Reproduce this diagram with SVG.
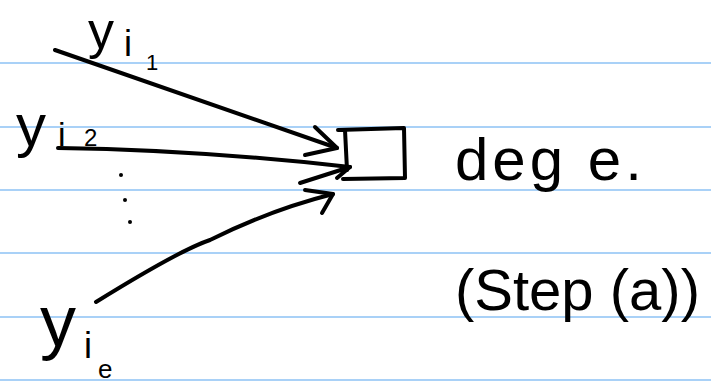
<svg xmlns="http://www.w3.org/2000/svg" width="711" height="386" viewBox="0 0 711 386">
<style>
.rule{stroke:#a9d1f7;stroke-width:2}
.ink{fill:none;stroke:#000;stroke-width:4;stroke-linecap:round;stroke-linejoin:round}
.t{font-family:"Liberation Sans",sans-serif;fill:#000}
</style>
<rect width="711" height="386" fill="#fff"/>
<g id="rules">
<line class="rule" x1="0" y1="63" x2="711" y2="63"/>
<line class="rule" x1="0" y1="127" x2="711" y2="127"/>
<line class="rule" x1="0" y1="190" x2="711" y2="190"/>
<line class="rule" x1="0" y1="253" x2="711" y2="253"/>
<line class="rule" x1="0" y1="317" x2="711" y2="317"/>
<line class="rule" x1="0" y1="380" x2="711" y2="380"/>
</g>
<g id="connectors">
<path class="ink" d="M55 50 Q200 100 337 148"/>
<path class="ink" d="M315 127 L337 148 L305 155"/>
<path class="ink" d="M58 148 Q200 150 350 167"/>
<path class="ink" d="M300 183 L350 167 L337 178"/>
<path class="ink" d="M96 302 Q180 250 210 240 Q270 210 333 194"/>
<path class="ink" d="M305 190 L333 194 L322 213"/>
</g>
<g id="node-box">
<path class="ink" d="M338 130 L404 128 L405 178 L343 179 M345 130 L347 170"/>
</g>
<g id="label-y1">
<text class="t" x="88" y="48" font-size="52">y</text>
<text class="t" x="124" y="56" font-size="36">i</text>
<text class="t" x="146" y="70" font-size="22">1</text>
</g>
<g id="label-y2">
<text class="t" x="16" y="146" font-size="60">y</text>
<text class="t" x="58" y="146" font-size="34">i</text>
<text class="t" x="84" y="146" font-size="24">2</text>
</g>
<g id="label-dots">
<circle cx="121" cy="175" r="2"/>
<circle cx="125" cy="200" r="2"/>
<circle cx="130" cy="222" r="2"/>
</g>
<g id="label-ye">
<text class="t" x="40" y="346" font-size="72">y</text>
<text class="t" x="84" y="358" font-size="36">i</text>
<text class="t" x="98" y="378" font-size="26">e</text>
</g>
<g id="label-deg">
<text class="t" x="455" y="180" font-size="60" letter-spacing="4">deg e.</text>
</g>
<g id="label-step">
<text class="t" x="455" y="310" font-size="58">(Step (a))</text>
</g>
</svg>
